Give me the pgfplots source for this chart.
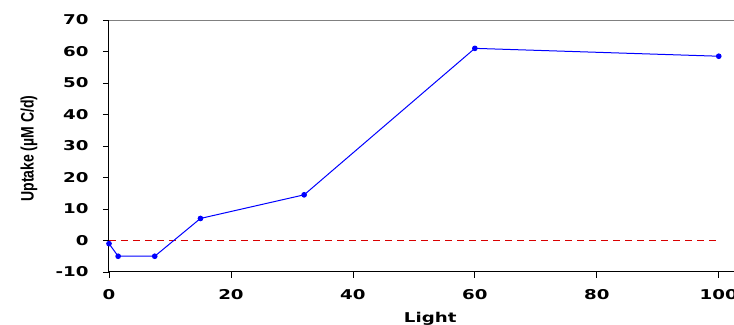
\documentclass[border=0pt]{standalone}
\usepackage{pgfplots}
\pgfplotsset{compat=1.18}
\usepackage{fontspec}
\setmainfont{DejaVu Sans}
\newfontfamily\tickfont[FakeStretch=1.35]{DejaVu Sans}
\newfontfamily\ylabfont[FakeStretch=0.78]{Liberation Sans}
\begin{document}
\begin{tikzpicture}
\begin{axis}[name=ax,
  scale only axis, width=625pt, height=252pt,
  xmin=0, xmax=102.5, ymin=-10, ymax=70,
  xtick={0,20,40,60,80,100}, ytick={-10,0,...,70},
  axis x line*=bottom, axis y line*=left,
  axis line style={black, line width=1pt},
  tick align=outside, major tick length=6pt,
  tick style={black, line width=0.8pt},
  /pgf/number format/assume math mode=true,
  ticklabel style={font=\fontsize{13.5}{15}\tickfont\bfseries},
  xticklabel style={anchor=north, yshift=-8pt},
  yticklabel style={anchor=east, xshift=-11pt},
  xlabel={Light}, xlabel style={font=\fontsize{13.5}{15}\tickfont\bfseries, at={(rel axis cs:0.514,0)}, anchor=north, yshift=-37pt},
  ylabel={Uptake (µM C/d)}, ylabel style={font=\fontsize{18}{20}\ylabfont\bfseries, at={([xshift=-80pt]rel axis cs:0,0.49)}, anchor=center},
  clip=false,
]
\draw[gray, line width=0.8pt] (rel axis cs:0,1) -- (rel axis cs:1,1);
\addplot[red!85!black, dashed, dash pattern=on 7pt off 5pt, line width=0.8pt] coordinates {(0,0) (100,0)};
\addplot[blue, line width=1pt, mark=*, mark size=2.3pt] coordinates {
(0,-1) (1.5,-5) (7.5,-5) (15,7) (32,14.5) (60,61) (100,58.5)};
\end{axis}
\pgfresetboundingbox
\path[use as bounding box] ([shift={(-109pt,-53pt)}]ax.south west) rectangle ([shift={(0pt,20pt)}]ax.north east);
\end{tikzpicture}
\end{document}
